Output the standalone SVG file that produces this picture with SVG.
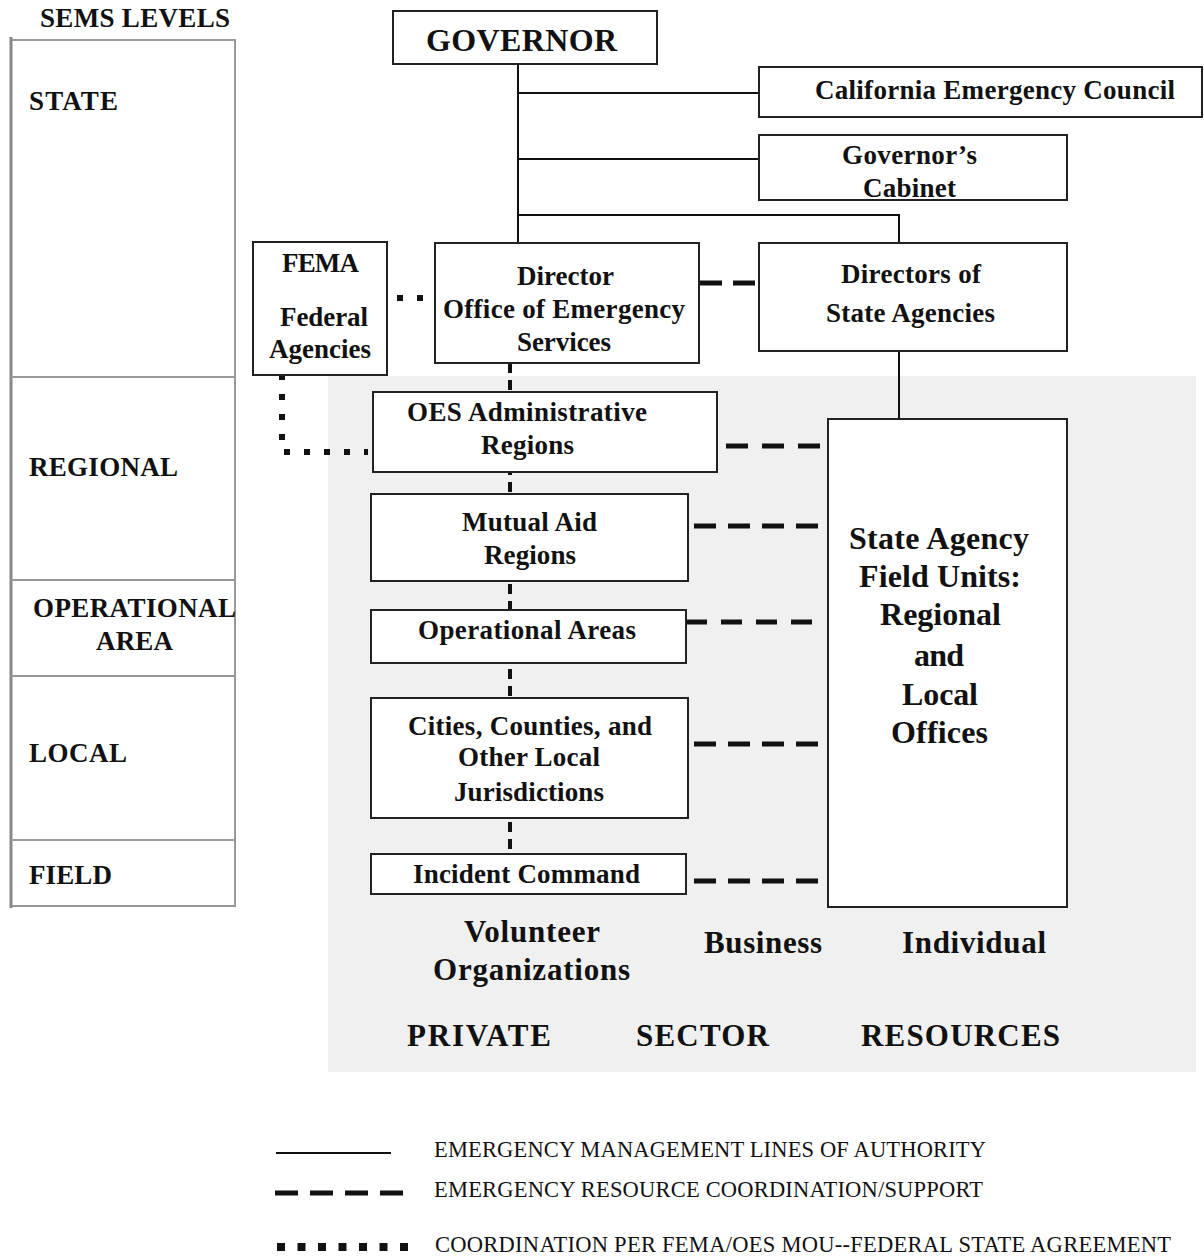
<svg xmlns="http://www.w3.org/2000/svg" width="1204" height="1258" viewBox="0 0 1204 1258">
<style>
text{font-family:"Liberation Serif","Times New Roman",serif;fill:#111;}
.b{font-weight:bold;font-size:27px;}
.big{font-weight:bold;font-size:32px;}
.bot{font-weight:bold;font-size:31px;}
.leg{font-size:22.5px;}
.box{fill:#fff;stroke:#222;stroke-width:2;}
.lvl{fill:none;stroke:#999;stroke-width:2;}
.solid{fill:none;stroke:#111;stroke-width:2;}
.dash{fill:none;stroke:#111;stroke-width:5;}
.dot{fill:none;stroke:#111;stroke-width:6;stroke-dasharray:6 14;}
.vdot{fill:none;stroke:#111;stroke-width:4;stroke-dasharray:10 7;}
</style>
<rect width="1204" height="1258" fill="#fff"/>
<rect id="private-sector-area" x="328" y="376" width="868" height="696" fill="#f0f0f0"/>

<g id="sems-levels">
<rect class="lvl" x="11" y="40" width="224" height="866"/>
<line x1="11" y1="37" x2="11" y2="908" stroke="#888" stroke-width="3"/>
<line class="lvl" x1="11" y1="377" x2="235" y2="377"/>
<line class="lvl" x1="11" y1="580" x2="235" y2="580"/>
<line class="lvl" x1="11" y1="676" x2="235" y2="676"/>
<line class="lvl" x1="11" y1="840" x2="235" y2="840"/>
<text class="b" x="40" y="27" textLength="190">SEMS LEVELS</text>
<text class="b" x="29" y="110" textLength="89">STATE</text>
<text class="b" x="29" y="476" textLength="149">REGIONAL</text>
<text class="b" x="33" y="617" textLength="203">OPERATIONAL</text>
<text class="b" x="96" y="650" textLength="77">AREA</text>
<text class="b" x="29" y="762" textLength="98">LOCAL</text>
<text class="b" x="29" y="884" textLength="83">FIELD</text>
</g>

<g id="connectors">
<path class="solid" d="M518,64 V243 M518,93 H758 M518,159 H758 M518,215 H899 V243 M899,351 V419"/>
<path class="dash" d="M700,283 H756" stroke-dasharray="22 11"/>
<path class="dash" d="M726,446 H820" stroke-dasharray="22 14"/>
<path class="dash" d="M694,526 H820" stroke-dasharray="22 12"/>
<path class="dash" d="M686,622 H813" stroke-dasharray="21 14"/>
<path class="dash" d="M694,744 H820" stroke-dasharray="22 12"/>
<path class="dash" d="M694,881 H820" stroke-dasharray="22 12"/>
<path class="vdot" d="M510,363 V853"/>
<path class="dot" d="M397,298 H423"/>
<path class="dot" d="M282,374 V452 H368"/>
</g>

<g id="governor">
<rect class="box" x="393" y="11" width="264" height="53"/>
<text x="426" y="51" font-size="32" font-weight="bold" textLength="191">GOVERNOR</text>
</g>
<g id="california-emergency-council">
<rect class="box" x="759" y="67" width="443" height="50"/>
<text class="b" x="815" y="99" textLength="360">California Emergency Council</text>
</g>
<g id="governors-cabinet">
<rect class="box" x="759" y="135" width="308" height="65"/>
<text class="b" x="842" y="164" textLength="135">Governor’s</text>
<text class="b" x="863" y="197" textLength="93">Cabinet</text>
</g>
<g id="director-oes">
<rect class="box" x="435" y="243" width="264" height="120"/>
<text class="b" x="517" y="285" textLength="97">Director</text>
<text class="b" x="443" y="318" textLength="242">Office of Emergency</text>
<text class="b" x="517" y="351" textLength="94">Services</text>
</g>
<g id="directors-state-agencies">
<rect class="box" x="759" y="243" width="308" height="108"/>
<text class="b" x="841" y="283" textLength="140">Directors of</text>
<text class="b" x="826" y="322" textLength="169">State Agencies</text>
</g>
<g id="fema">
<rect class="box" x="253" y="242" width="134" height="133"/>
<text class="b" x="282" y="272" textLength="77">FEMA</text>
<text class="b" x="280" y="326" textLength="88">Federal</text>
<text class="b" x="269" y="358" textLength="102">Agencies</text>
</g>
<g id="oes-admin-regions">
<rect class="box" x="373" y="392" width="344" height="80"/>
<text class="b" x="407" y="421" textLength="240">OES Administrative</text>
<text class="b" x="481" y="454" textLength="93">Regions</text>
</g>
<g id="mutual-aid-regions">
<rect class="box" x="371" y="494" width="317" height="87"/>
<text class="b" x="462" y="531" textLength="135">Mutual Aid</text>
<text class="b" x="484" y="564" textLength="92">Regions</text>
</g>
<g id="operational-areas">
<rect class="box" x="371" y="610" width="315" height="53"/>
<text class="b" x="418" y="639" textLength="218">Operational Areas</text>
</g>
<g id="local-jurisdictions">
<rect class="box" x="371" y="698" width="317" height="120"/>
<text class="b" x="408" y="735" textLength="244">Cities, Counties, and</text>
<text class="b" x="458" y="766" textLength="142">Other Local</text>
<text class="b" x="454" y="801" textLength="150">Jurisdictions</text>
</g>
<g id="incident-command">
<rect class="box" x="371" y="854" width="315" height="40"/>
<text class="b" x="413" y="883" textLength="227">Incident Command</text>
</g>
<g id="state-agency-field-units">
<rect class="box" x="828" y="419" width="239" height="488"/>
<text class="big" x="849" y="549" textLength="180">State Agency</text>
<text class="big" x="859" y="587" textLength="162">Field Units:</text>
<text class="big" x="880" y="625" textLength="121">Regional</text>
<text class="big" x="914" y="666" textLength="50">and</text>
<text class="big" x="902" y="705" textLength="76">Local</text>
<text class="big" x="891" y="743" textLength="97">Offices</text>
</g>

<g id="private-sector-labels">
<text class="bot" x="464" y="942" textLength="136">Volunteer</text>
<text class="bot" x="433" y="980" textLength="197">Organizations</text>
<text class="bot" x="704" y="953" textLength="118">Business</text>
<text class="bot" x="902" y="953" textLength="144">Individual</text>
<text class="bot" x="407" y="1046" textLength="144">PRIVATE</text>
<text class="bot" x="636" y="1046" textLength="133">SECTOR</text>
<text class="bot" x="861" y="1046" textLength="199">RESOURCES</text>
</g>

<g id="legend">
<path class="solid" d="M276,1153 H391"/>
<path class="dash" d="M275,1193 H405" stroke-dasharray="23 12"/>
<path fill="none" stroke="#111" stroke-width="8" stroke-dasharray="8 12.5" d="M277,1247 H408"/>
<text class="leg" x="434" y="1157" textLength="552">EMERGENCY MANAGEMENT LINES OF AUTHORITY</text>
<text class="leg" x="434" y="1197" textLength="549">EMERGENCY RESOURCE COORDINATION/SUPPORT</text>
<text class="leg" x="435" y="1252" textLength="736">COORDINATION PER FEMA/OES MOU--FEDERAL STATE AGREEMENT</text>
</g>
</svg>
